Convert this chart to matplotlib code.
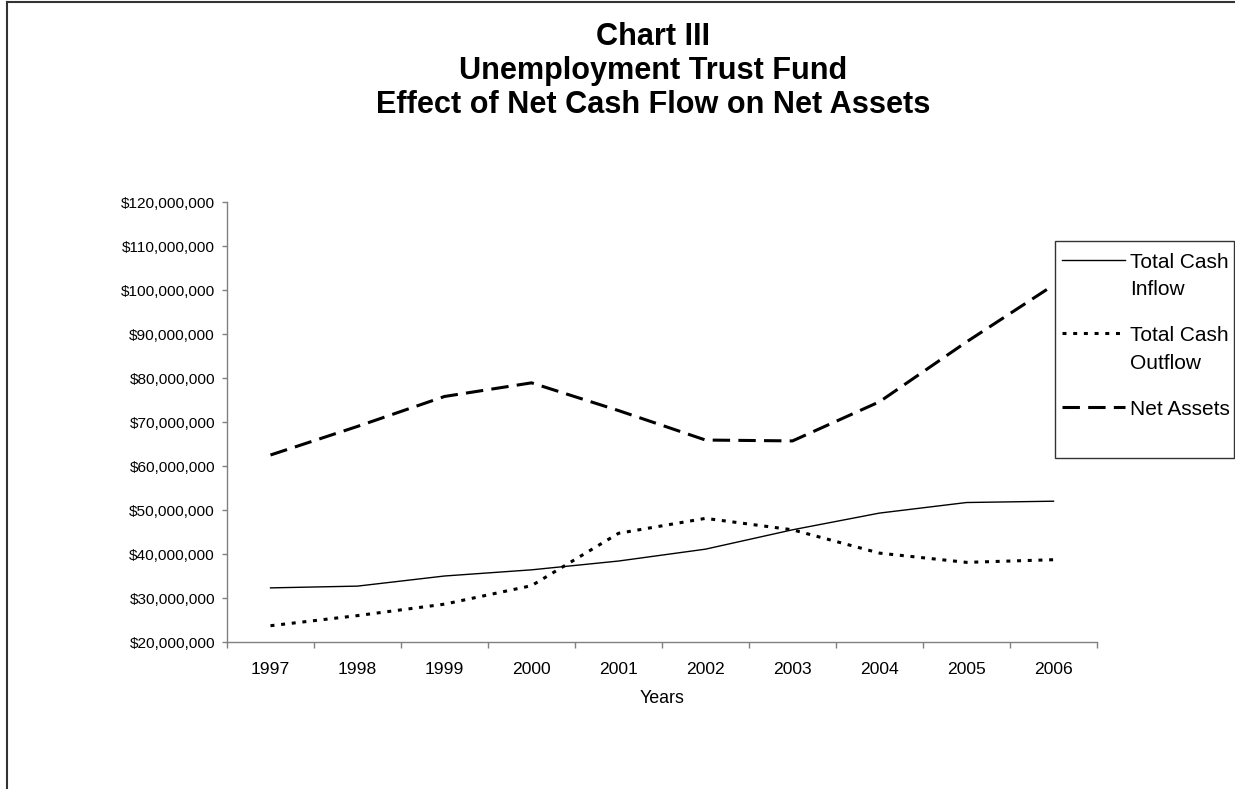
import matplotlib
matplotlib.use("Agg")
import matplotlib.pyplot as plt
import numpy as np
from matplotlib.ticker import StrMethodFormatter
from matplotlib.patches import Rectangle
from matplotlib.lines import Line2D

plt.rcParams['font.family'] = ['Liberation Sans', 'DejaVu Sans']

# ---- data ----
years = ["1997", "1998", "1999", "2000", "2001", "2002", "2003", "2004", "2005", "2006"]
inflow = [32.3e6, 32.7e6, 35.0e6, 36.4e6, 38.4e6, 41.1e6, 45.5e6, 49.3e6, 51.7e6, 52.0e6]
outflow = [23.7e6, 26.0e6, 28.6e6, 32.8e6, 44.7e6, 48.1e6, 45.5e6, 40.2e6, 38.1e6, 38.7e6]
net_assets = [62.5e6, 69.0e6, 75.8e6, 78.9e6, 72.6e6, 65.9e6, 65.7e6, 74.6e6, 88.2e6, 101.1e6]
series_labels = ["Total Cash\nInflow", "Total Cash\nOutflow", "Net Assets"]
title_lines = ["Chart III", "Unemployment Trust Fund", "Effect of Net Cash Flow on Net Assets"]
x_label = "Years"
y_ticks = [20e6, 30e6, 40e6, 50e6, 60e6, 70e6, 80e6, 90e6, 100e6, 110e6, 120e6]

W, H = 1235, 789
fig = plt.figure(figsize=(W / 100, H / 100), dpi=100)
fig.patch.set_facecolor("white")

def fx(px):
    return px / W

def fy(py):
    return 1 - py / H

ax = fig.add_axes([fx(227), fy(642), fx(1097) - fx(227), fy(202) - fy(642)])

x = np.arange(len(years))
l1, = ax.plot(x, inflow, color="black", lw=1.0, label=series_labels[0])
l2, = ax.plot(x, outflow, color="black", lw=2.2, linestyle=(0, (1.3, 2.2)),
              label=series_labels[1])
l3, = ax.plot(x, net_assets, color="black", lw=2.2, linestyle=(0, (5.7, 2.7)),
              label=series_labels[2])

ax.set_xlim(-0.5, len(years) - 0.5)
ax.set_ylim(y_ticks[0], y_ticks[-1])
ax.set_yticks(y_ticks)
ax.yaxis.set_major_formatter(StrMethodFormatter("${x:,.0f}"))

ax.set_xticks(np.arange(-0.5, len(years), 1.0))
ax.set_xticklabels([])
ax.set_xticks(x, minor=True)
ax.set_xticklabels(years, minor=True)

axis_col = "#808080"
for s in ["top", "right"]:
    ax.spines[s].set_visible(False)
for s in ["left", "bottom"]:
    ax.spines[s].set_color(axis_col)
    ax.spines[s].set_linewidth(1.0)

ax.tick_params(axis="x", which="minor", length=0, pad=14.5, labelsize=12.6)
ax.tick_params(axis="x", which="major", length=4.3, width=1.0, color=axis_col, direction="out")
ax.tick_params(axis="y", which="major", length=3.6, width=1.0, color=axis_col, pad=5,
               labelsize=11.1)
ax.set_xlabel(x_label, fontsize=12.9, labelpad=9)

# title
for t, yb in zip(title_lines, [45, 79, 113]):
    fig.text(fx(653), fy(yb), t, ha="center", va="baseline", fontsize=22.1,
             fontweight="bold")

# legend box (decoration)
fig.add_artist(Rectangle((fx(1055), fy(458)), fx(1234) - fx(1055), fy(241) - fy(458),
                         transform=fig.transFigure, facecolor="white",
                         edgecolor="#333333", lw=1.0, zorder=2))
leg = fig.legend(handles=[l1, l2, l3], labels=series_labels, loc="upper left",
                 bbox_to_anchor=(fx(1062), fy(253)), bbox_transform=fig.transFigure,
                 frameon=False, borderpad=0, borderaxespad=0, fontsize=15,
                 handlelength=3.0, handletextpad=0.25, labelspacing=1.3)
leg.set_zorder(3)
for txt in leg.get_texts():
    txt.set_linespacing(1.55)
for ln, lab in zip(leg.get_lines(), series_labels):
    if "\n" in lab:
        yd = np.asarray(ln.get_ydata(), dtype=float)
        ln.set_ydata(yd + 12.0)

# outer border
fig.add_artist(Line2D([fx(7), fx(7)], [0, fy(2)], transform=fig.transFigure,
                      color="#333333", lw=1.5))
fig.add_artist(Line2D([fx(7), 1], [fy(2), fy(2)], transform=fig.transFigure,
                      color="#333333", lw=1.5))

fig.savefig("out.png", dpi=100)
